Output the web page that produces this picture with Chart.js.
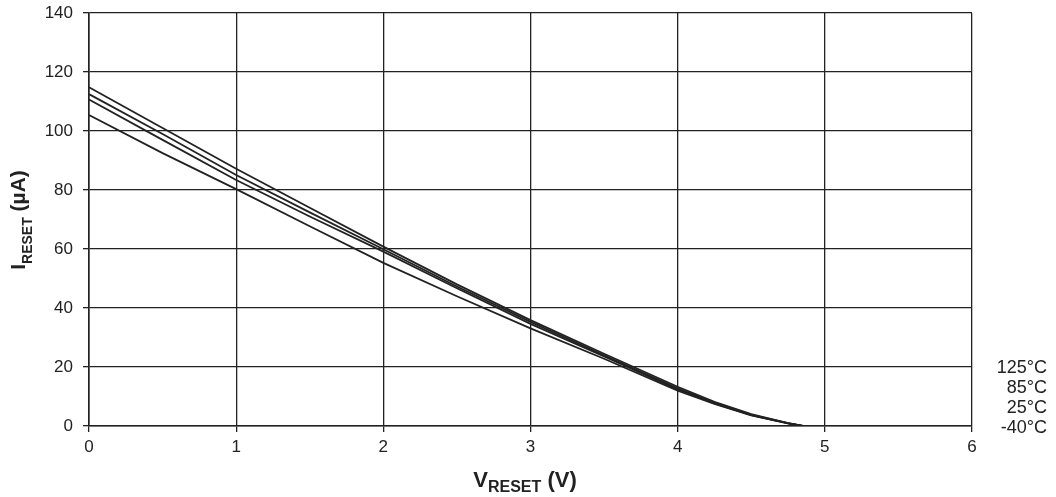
<!DOCTYPE html>
<html>
<head>
<meta charset="utf-8">
<script src="https://cdn.jsdelivr.net/npm/chart.js@4/dist/chart.umd.min.js"></script>
<style>
  html, body { margin: 0; padding: 0; background: #fff; }
  #wrap { width: 1056px; height: 497px; }
</style>
</head>
<body>
<div id="wrap"><canvas id="chart" width="1056" height="497"></canvas></div>
<script>
var vReset = [0, 0.5, 1, 1.5, 2, 2.5, 3, 3.5, 4, 4.25, 4.5, 4.75, 4.85, 5];
var i125 = [114.8, 101, 87.2, 74, 60.8, 48, 35.9, 24.5, 13.3, 8.2, 4, 1, 0, 0];
var i85 = [112.5, 99, 85.1, 72.4, 59.9, 47.3, 35.3, 24, 12.8, 7.9, 3.8, 1, 0, 0];
var i25 = [110.7, 97, 83.4, 71, 59.1, 46.7, 34.6, 23.6, 12.4, 7.7, 3.7, 0.9, 0, 0];
var iM40 = [105.4, 92.5, 80.3, 67.7, 55.3, 44, 33.1, 22.8, 12, 7.5, 3.6, 0.9, 0, 0];
var seriesLabels = ['125°C', '85°C', '25°C', '-40°C'];

function pts(ys) {
    return vReset.map((x, i) => ({ x: x, y: ys[i] }))
}

var font = '"Liberation Sans", Arial, sans-serif';

// draws a bold title with a subscript part, centred on x0, baseline 0
function subTitle(ctx, main, sub, rest, big, small, drop, x0) {
    ctx.font = 'bold ' + big + 'px ' + font;
    var w1 = ctx.measureText(main).width;
    var w3 = ctx.measureText(rest).width;
    ctx.font = 'bold ' + small + 'px ' + font;
    var w2 = ctx.measureText(sub).width;
    var x = x0 - (w1 + w2 + w3) / 2;
    ctx.font = 'bold ' + big + 'px ' + font;
    ctx.fillText(main, x, 0);
    ctx.font = 'bold ' + small + 'px ' + font;
    ctx.fillText(sub, x + w1, drop);
    ctx.font = 'bold ' + big + 'px ' + font;
    ctx.fillText(rest, x + w1 + w2, 0);
}

// axis titles with subscripts + temperature labels at right
const labelsPlugin = {
    id: 'labelsPlugin',
    afterDraw(chart) {
        const ctx = chart.ctx;
        ctx.save();
        ctx.fillStyle = '#222';
        ctx.textAlign = 'left';
        ctx.textBaseline = 'alphabetic';

        ctx.save();
        ctx.translate(0, 487);
        subTitle(ctx, 'V', 'RESET', ' (V)', 22, 16, 4.5, 525);
        ctx.restore();

        ctx.save();
        ctx.translate(25, 220);
        ctx.rotate(-Math.PI / 2);
        subTitle(ctx, 'I', 'RESET', ' (µA)', 21, 14, 7, 0);
        ctx.restore();

        ctx.font = '18px ' + font;
        ctx.textAlign = 'right';
        ctx.textBaseline = 'middle';
        seriesLabels.forEach((t, i) => {
            ctx.fillText(t, 1047, 368.5 + i * 20);
        });
        ctx.restore();
    }
};

const ctx = document.getElementById('chart').getContext('2d');

const chart = new Chart(ctx, {
    type: 'line',
    data: {
        datasets: [
            { label: seriesLabels[0], data: pts(i125) },
            { label: seriesLabels[1], data: pts(i85) },
            { label: seriesLabels[2], data: pts(i25) },
            { label: seriesLabels[3], data: pts(iM40) }
        ].map(d => Object.assign(d, {
            borderColor: '#222',
            borderWidth: 1.8,
            pointRadius: 0,
            fill: false,
            tension: 0
        }))
    },
    options: {
        responsive: false,
        animation: false,
        layout: { padding: { top: 13, right: 84, left: 0, bottom: 0 } },
        plugins: {
            legend: { display: false },
            tooltip: { enabled: false }
        },
        scales: {
            x: {
                type: 'linear',
                min: 0,
                max: 6,
                ticks: { stepSize: 1, color: '#222', font: { size: 17, family: font }, padding: 5, maxRotation: 0 },
                grid: { color: '#222', lineWidth: 1.3, tickLength: 6 },
                border: { color: '#222', width: 1.6 },
                afterFit: s => { s.height = 71 }
            },
            y: {
                min: 0,
                max: 140,
                ticks: { stepSize: 20, color: '#222', font: { size: 17, family: font }, padding: 10 },
                grid: { color: '#222', lineWidth: 1.3, tickLength: 6 },
                border: { color: '#222', width: 1.6 },
                afterFit: s => {
                    s.width = 89
                    s.paddingTop = 0
                    s.paddingBottom = 0
                }
            }
        }
    },
    plugins: [labelsPlugin]
});
</script>
</body>
</html>
